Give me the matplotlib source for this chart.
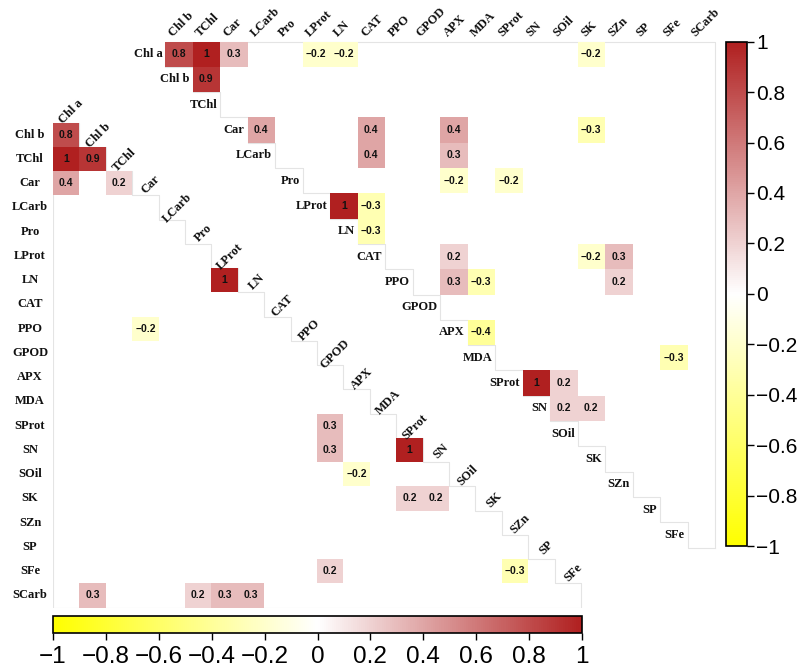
import numpy as np
import matplotlib
matplotlib.use("Agg")
import matplotlib.pyplot as plt
from matplotlib.colors import LinearSegmentedColormap, Normalize
from matplotlib.patches import Rectangle
import matplotlib.cm as cm

# ---------------- data ----------------
variables = ["Chl a", "Chl b", "TChl", "Car", "LCarb", "Pro", "LProt", "LN",
             "CAT", "PPO", "GPOD", "APX", "MDA", "SProt", "SN", "SOil",
             "SK", "SZn", "SP", "SFe", "SCarb"]

# lower-left (lower triangle) matrix
lower_rows = ["Chl b", "TChl", "TChl", "Car", "Car", "PPO", "LN", "SProt",
              "SN", "SN", "SOil", "SK", "SK", "SFe", "SFe",
              "SCarb", "SCarb", "SCarb", "SCarb"]
lower_cols = ["Chl a", "Chl a", "Chl b", "Chl a", "TChl", "Car", "LProt", "GPOD",
              "GPOD", "SProt", "APX", "SProt", "SN", "GPOD", "SZn",
              "Chl b", "Pro", "LProt", "LN"]
lower_vals = [0.8, 1, 0.9, 0.4, 0.2, -0.2, 1, 0.3,
              0.3, 1, -0.2, 0.2, 0.2, 0.2, -0.3,
              0.3, 0.2, 0.3, 0.3]

# upper-right (upper triangle) matrix
upper_rows = ["Chl a", "Chl a", "Chl a", "Chl a", "Chl a", "Chl a", "Chl b",
              "Car", "Car", "Car", "Car", "LCarb", "LCarb", "Pro", "Pro",
              "LProt", "LProt", "LN", "CAT", "CAT", "CAT", "PPO", "PPO", "PPO",
              "APX", "MDA", "SProt", "SProt", "SN", "SN"]
upper_cols = ["Chl b", "TChl", "Car", "LProt", "LN", "SK", "TChl",
              "LCarb", "CAT", "APX", "SK", "CAT", "APX", "APX", "SProt",
              "LN", "CAT", "CAT", "APX", "SK", "SZn", "APX", "MDA", "SZn",
              "MDA", "SFe", "SN", "SOil", "SOil", "SK"]
upper_vals = [0.8, 1, 0.3, -0.2, -0.2, -0.2, 0.9,
              0.4, 0.4, 0.4, -0.3, 0.4, 0.3, -0.2, -0.2,
              1, -0.3, -0.3, 0.2, -0.2, 0.3, 0.3, -0.3, 0.2,
              -0.4, -0.3, 1, 0.2, 0.2, 0.2]

cbar_ticks = [-1, -0.8, -0.6, -0.4, -0.2, 0, 0.2, 0.4, 0.6, 0.8, 1]

# ---------------- style ----------------
W, H = 798, 671
fig = plt.figure(figsize=(W / 100, H / 100), dpi=100)
cmap = LinearSegmentedColormap.from_list("ywr", ["#FFFF00", "#FFFFFF", "#B02020"], N=256)
norm = Normalize(-1, 1)
LBL = dict(family="Liberation Serif", fontweight="bold", fontsize=9, color="#111111")
NUM = dict(family="Liberation Sans", fontweight="bold", fontsize=7.5, color="#111111")
GRID_C = "#e4e4e4"


def px_axes(x0, y0, x1, y1):
    return fig.add_axes([x0 / W, 1 - y1 / H, (x1 - x0) / W, (y1 - y0) / H])


def fmt(v):
    return f"{v:g}".replace("-", "\u2212")


idx = {v: i for i, v in enumerate(variables)}
n = len(variables)

# ---------------- lower-left matrix ----------------
ax1 = px_axes(53, 98.25, 53 + 26.4 * 21, 607.5)
ax1.set_xlim(-0.5, n - 0.5)
ax1.set_ylim(n - 0.5, -0.5)
ax1.axis("off")
ax1.patch.set_alpha(0)

for rn, cn, v in zip(lower_rows, lower_cols, lower_vals):
    r, c = idx[rn], idx[cn]
    ax1.add_patch(Rectangle((c - 0.5, r - 0.5), 1, 1, facecolor=cmap(norm(v)),
                            edgecolor="none", zorder=2))
    ax1.text(c, r, fmt(v), ha="center", va="center", zorder=3, **NUM)

# outline of the lower triangle
sx, sy = [-0.5], [n - 0.5]
sx.append(-0.5); sy.append(0.5)
for k in range(1, n):
    sx += [k - 0.5, k - 0.5]
    sy += [k - 0.5, k + 0.5]
sx.append(-0.5); sy.append(n - 0.5)
ax1.plot(sx, sy, color=GRID_C, lw=0.8, zorder=1)

for i in range(n - 1):
    ax1.text(i + 0.2, i + 0.05, variables[i], rotation=45, rotation_mode="anchor",
             ha="center", va="center", clip_on=False, **LBL)
for r in range(1, n):
    ax1.text(-1.37, r, variables[r], ha="center", va="center", clip_on=False, **LBL)

# ---------------- upper-right matrix ----------------
ax2 = px_axes(137.5, 41.5, 715, 547.5)
ax2.set_xlim(-0.5, n - 0.5)
ax2.set_ylim(n - 1 - 0.5, -0.5)
ax2.axis("off")
ax2.patch.set_alpha(0)

for rn, cn, v in zip(upper_rows, upper_cols, upper_vals):
    r, c = idx[rn], idx[cn]
    ax2.add_patch(Rectangle((c - 0.5, r - 0.5), 1, 1, facecolor=cmap(norm(v)),
                            edgecolor="none", zorder=2))
    ax2.text(c, r, fmt(v), ha="center", va="center", zorder=3, **NUM)

ux, uy = [n - 0.5, n - 0.5, 0.5], [n - 1.5, -0.5, -0.5]
for k in range(0, n - 1):
    ux += [k + 0.5, k + 1.5]
    uy += [k + 0.5, k + 0.5]
ax2.plot(ux, uy, color=GRID_C, lw=0.8, zorder=1, clip_on=False)

for r in range(n - 1):
    ax2.text(r + 0.4, r, variables[r], ha="right", va="center", clip_on=False, **LBL)
for c in range(1, n):
    ax2.text(c - 0.15, -0.6, variables[c], rotation=45, rotation_mode="anchor",
             ha="left", va="bottom", clip_on=False, **LBL)

# ---------------- colorbars ----------------
sm = cm.ScalarMappable(norm=norm, cmap=cmap)
tick_labels = [fmt(t) for t in cbar_ticks]

cax_r = px_axes(726, 41.7, 746.5, 546)
cb_r = fig.colorbar(sm, cax=cax_r, orientation="vertical", ticks=cbar_ticks)
cb_r.set_ticklabels(tick_labels)
cb_r.ax.tick_params(length=5, width=1, direction="out", pad=2)
for t in cb_r.ax.get_yticklabels():
    t.set_family("Liberation Sans"); t.set_fontsize(15)
cb_r.outline.set_linewidth(1.2)

cax_b = px_axes(53, 615.7, 582, 633.3)
cb_b = fig.colorbar(sm, cax=cax_b, orientation="horizontal", ticks=cbar_ticks)
cb_b.set_ticklabels(tick_labels)
cb_b.ax.tick_params(length=5, width=1, direction="out", pad=4)
for t in cb_b.ax.get_xticklabels():
    t.set_family("Liberation Sans"); t.set_fontsize(17.5)
cb_b.outline.set_linewidth(1.2)

fig.savefig("out.png", dpi=100)
